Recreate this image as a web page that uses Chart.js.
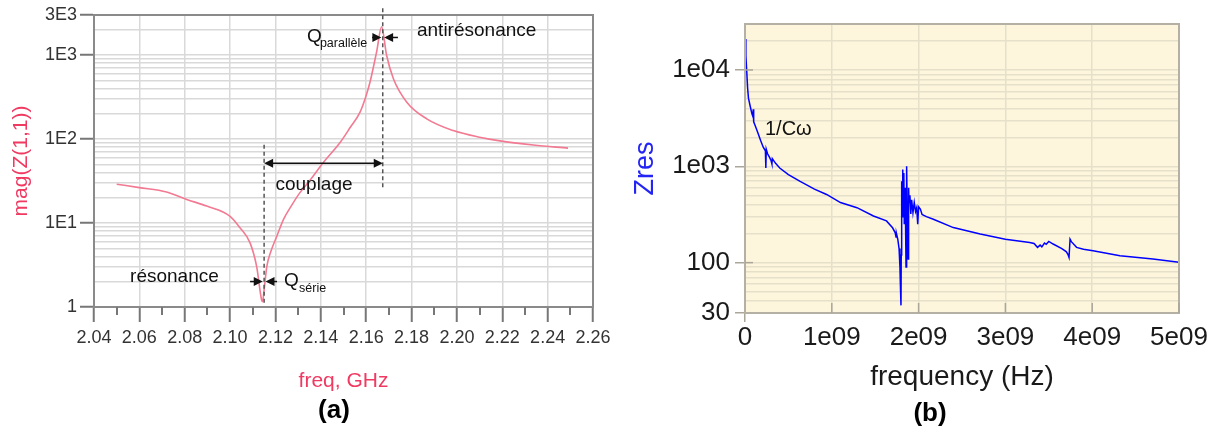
<!DOCTYPE html>
<html><head><meta charset="utf-8">
<script src="https://cdn.jsdelivr.net/npm/chart.js@4"></script>
<style>
html,body{margin:0;padding:0;background:#fff;}
#wrap{position:relative;width:1219px;height:432px;overflow:hidden;}
#cA{position:absolute;left:0;top:0;}
#cB{position:absolute;left:610px;top:0;}
</style></head><body>
<div id="wrap"><canvas id="cA" width="610" height="432"></canvas><canvas id="cB" width="609" height="432"></canvas></div>
<script>
// ---------- (a) data ----------
const freqA = [2.05, 2.06, 2.072, 2.0809, 2.0897, 2.1, 2.1044, 2.1088, 2.1117, 2.1139, 2.1143, 2.115, 2.1162, 2.118, 2.1206, 2.1235, 2.127, 2.1308, 2.1355, 2.1411, 2.1485, 2.153, 2.1573, 2.16, 2.1617, 2.1646, 2.1668, 2.169, 2.172, 2.1779, 2.1867, 2.1984, 2.21, 2.219, 2.2337, 2.249];
const magA  = [29, 26.4, 23.4, 19.1, 15.9, 12, 8.75, 5.8, 3.04, 1.21, 1.16, 1.6, 3.04, 4.6, 6.95, 11, 16, 23, 33, 52.6, 91, 138, 209, 330, 477, 1093, 2177, 995, 523, 275, 174, 126, 105, 95, 85, 78];
const xTicksA = [2.04, 2.06, 2.08, 2.10, 2.12, 2.14, 2.16, 2.18, 2.20, 2.22, 2.24, 2.26];
const xMinorTicksA = [2.05, 2.07, 2.09, 2.11, 2.13, 2.15, 2.17, 2.19, 2.21, 2.23, 2.25];
const yLabelValuesA = [1, 10, 100, 1000, 3000];
const yLabelTextA = ['1', '1E1', '1E2', '1E3', '3E3'];

// ---------- (b) data ----------
const freqB = [0.004e9, 0.01e9, 0.02e9, 0.03e9, 0.04e9, 0.06e9, 0.08e9, 0.09e9, 0.095e9, 0.10e9, 0.12e9, 0.15e9, 0.18e9, 0.21e9, 0.235e9, 0.24e9, 0.245e9, 0.26e9, 0.28e9, 0.30e9, 0.31e9, 0.315e9, 0.35e9, 0.40e9, 0.50e9, 0.63e9, 0.80e9, 0.94e9, 1.10e9, 1.29e9, 1.48e9, 1.63e9, 1.70e9, 1.73e9, 1.74e9, 1.745e9, 1.76e9, 1.775e9, 1.785e9, 1.79e9, 1.797e9, 1.80e9, 1.805e9, 1.81e9, 1.815e9, 1.82e9, 1.83e9, 1.835e9, 1.845e9, 1.855e9, 1.862e9, 1.87e9, 1.88e9, 1.885e9, 1.89e9, 1.90e9, 1.91e9, 1.92e9, 1.935e9, 1.95e9, 1.965e9, 1.978e9, 1.99e9, 2.00e9, 2.02e9, 2.04e9, 2.06e9, 2.09e9, 2.17e9, 2.4e9, 2.71e9, 3.0e9, 3.28e9, 3.33e9, 3.37e9, 3.40e9, 3.42e9, 3.45e9, 3.47e9, 3.50e9, 3.55e9, 3.65e9, 3.70e9, 3.72e9, 3.733e9, 3.745e9, 3.76e9, 3.82e9, 3.9e9, 4.01e9, 4.32e9, 4.7e9, 5.0e9];
const zresB = [21000, 14000, 9700, 6500, 5100, 4200, 3500, 3300, 3900, 2900, 2600, 2200, 1850, 1580, 1450, 960, 1500, 1350, 1250, 1150, 1060, 1200, 1080, 960, 820, 700, 580, 510, 420, 372, 305, 271, 230, 205, 185, 200, 175, 140, 90, 60, 36, 120, 700, 300, 925, 400, 850, 250, 600, 90, 1000, 300, 109, 600, 420, 500, 320, 450, 330, 420, 340, 372, 251, 380, 360, 317, 310, 300, 282, 231, 198, 175, 162, 158, 144, 152, 146, 160, 155, 166, 156, 140, 130, 122, 113, 175, 165, 144, 138, 133, 118, 109, 101];
const xTicksB = [0, 1e9, 2e9, 3e9, 4e9, 5e9];
const xTickTextB = ['0', '1e09', '2e09', '3e09', '4e09', '5e09'];
const yLabelValuesB = [30, 100, 1000, 10000];
const yLabelTextB = ['30', '100', '1e03', '1e04'];

// ---------- helpers ----------
const FONT = "'Liberation Sans', Arial, Helvetica, sans-serif";
function logGrid(lo, hi) {
  const out = [];
  for (let e = 0; e <= 5; e++) for (let m = 1; m <= 9; m++) {
    const v = m * Math.pow(10, e);
    if (v >= lo && v <= hi) out.push(v);
  }
  return out;
}
const yGridA = logGrid(1, 3000);
const yGridB = logGrid(30, 30000);
const CLEAR = 'rgba(0,0,0,0)';
function noPad(s) { s.paddingLeft = 0; s.paddingRight = 0; s.paddingTop = 0; s.paddingBottom = 0; }

function arrowHead(ctx, tipX, y, dir) {
  const len = 9, half = 4.5;
  ctx.beginPath();
  ctx.moveTo(tipX, y);
  ctx.lineTo(tipX - dir * len, y - half);
  ctx.lineTo(tipX - dir * len, y + half);
  ctx.closePath();
  ctx.fill();
}

// annotation config for (a), in data coordinates
const dashedA = [{x: 2.115, y1: 1.12, y2: 87}, {x: 2.1673, y1: 26.6, y2: 3600}];
const doubleArrowA = {x1: 2.115, x2: 2.1673, y: 51.6};
const pointArrowsA = [
  {from: 2.1626, to: 2.1667, y: 1620}, {from: 2.174, to: 2.1679, y: 1620},
  {from: 2.1088, to: 2.1144, y: 2.01}, {from: 2.1207, to: 2.1156, y: 2.01}
];
const notesA = [
  {text: 'couplage', x: 2.137, y: 28.9, align: 'center', size: 19},
  {text: 'antirésonance', x: 2.1824, y: 1965, align: 'left', size: 19},
  {text: 'résonance', x: 2.0559, y: 2.29, align: 'left', size: 19},
  {text: 'Q', x: 2.1339, y: 1666, align: 'left', size: 19},
  {text: 'parallèle', x: 2.1396, y: 1373, align: 'left', size: 12.5},
  {text: 'Q', x: 2.1238, y: 2.05, align: 'left', size: 19},
  {text: 'série', x: 2.1304, y: 1.64, align: 'left', size: 12.5}
];

const pluginA = {
  id: 'decorA',
  afterDraw(chart) {
    const {ctx, chartArea: a, scales: {x, y}} = chart;
    ctx.save();
    ctx.strokeStyle = '#8a8a8a'; ctx.lineWidth = 2;
    ctx.strokeRect(a.left, a.top, a.right - a.left, a.bottom - a.top);
    ctx.strokeStyle = '#777'; ctx.lineWidth = 2;
    xMinorTicksA.forEach(v => {
      const px = Math.round(x.getPixelForValue(v));
      ctx.beginPath(); ctx.moveTo(px, a.bottom); ctx.lineTo(px, a.bottom + 8); ctx.stroke();
    });
    ctx.strokeStyle = '#555'; ctx.lineWidth = 1.5; ctx.setLineDash([4, 3]);
    dashedA.forEach(d => {
      const px = x.getPixelForValue(d.x);
      ctx.beginPath(); ctx.moveTo(px, y.getPixelForValue(d.y1)); ctx.lineTo(px, y.getPixelForValue(d.y2)); ctx.stroke();
    });
    ctx.setLineDash([]);
    ctx.strokeStyle = '#111'; ctx.fillStyle = '#111'; ctx.lineWidth = 1.5;
    const ax1 = x.getPixelForValue(doubleArrowA.x1), ax2 = x.getPixelForValue(doubleArrowA.x2), ay = y.getPixelForValue(doubleArrowA.y);
    ctx.beginPath(); ctx.moveTo(ax1 + 4, ay); ctx.lineTo(ax2 - 4, ay); ctx.stroke();
    arrowHead(ctx, ax1, ay, -1); arrowHead(ctx, ax2, ay, 1);
    pointArrowsA.forEach(p => {
      const f = x.getPixelForValue(p.from), t = x.getPixelForValue(p.to), py = y.getPixelForValue(p.y);
      const dir = t > f ? 1 : -1;
      ctx.beginPath(); ctx.moveTo(f, py); ctx.lineTo(t - dir * 4, py); ctx.stroke();
      arrowHead(ctx, t, py, dir);
    });
    ctx.textBaseline = 'middle';
    notesA.forEach(n => {
      ctx.font = n.size + 'px ' + FONT; ctx.textAlign = n.align; ctx.fillStyle = '#111';
      ctx.fillText(n.text, x.getPixelForValue(n.x), y.getPixelForValue(n.y));
    });
    ctx.font = 'bold 26px ' + FONT; ctx.textAlign = 'center'; ctx.fillStyle = '#000';
    ctx.fillText('(a)', 334, 411);
    ctx.restore();
  }
};

new Chart(document.getElementById('cA'), {
  type: 'line',
  data: {datasets: [{data: freqA.map((f, i) => ({x: f, y: magA[i]})), borderColor: '#f27a92', borderWidth: 1.6, pointRadius: 0, cubicInterpolationMode: 'monotone'}]},
  options: {
    responsive: false, animation: false, devicePixelRatio: 1,
    layout: {padding: {left: 0, top: 15, right: 17, bottom: 0}},
    plugins: {legend: {display: false}, tooltip: {enabled: false}},
    scales: {
      x: {
        type: 'linear', min: 2.04, max: 2.26,
        afterBuildTicks: s => { s.ticks = xTicksA.map(v => ({value: v})); },
        afterFit: s => { s.height = 125; noPad(s); },
        ticks: {autoSkip: false, maxRotation: 0, padding: 5, color: '#333', font: {family: FONT, size: 18}, callback: v => Number(v).toFixed(2)},
        grid: {color: '#d9d9d9', lineWidth: 1.5, tickLength: 15, tickColor: '#777', tickWidth: 2},
        border: {color: '#777', width: 2},
        title: {display: true, text: 'freq, GHz', color: '#f03a62', font: {family: FONT, size: 21}, padding: {top: 0, bottom: 38}}
      },
      y: {
        type: 'logarithmic', min: 1, max: 3000,
        afterBuildTicks: s => { s.ticks = yGridA.map(v => ({value: v})); },
        afterFit: s => { s.width = 94; noPad(s); },
        ticks: {autoSkip: false, padding: 3, color: '#333', font: {family: FONT, size: 18},
          callback: v => { const i = yLabelValuesA.indexOf(v); return i >= 0 ? yLabelTextA[i] : ''; }},
        grid: {color: '#d9d9d9', lineWidth: 1.5, tickLength: 14, tickWidth: 2,
          tickColor: c => (c.tick && yLabelValuesA.includes(c.tick.value)) ? '#777' : CLEAR},
        border: {color: '#777', width: 2},
        title: {display: true, text: 'mag(Z(1,1))', color: '#f03a62', font: {family: FONT, size: 21}, padding: {top: 9, bottom: 0}}
      }
    }
  },
  plugins: [pluginA]
});

// ---------- (b) ----------
const noteB = {text: '1/Cω', x: 0.23e9, y: 2405};
const pluginB = {
  id: 'decorB',
  beforeDraw(chart) {
    const {ctx, chartArea: a} = chart;
    ctx.save(); ctx.fillStyle = '#fdf6dc';
    ctx.fillRect(a.left, a.top, a.right - a.left, a.bottom - a.top); ctx.restore();
  },
  afterDraw(chart) {
    const {ctx, chartArea: a, scales: {x, y}} = chart;
    ctx.save();
    ctx.strokeStyle = '#b4b0a4'; ctx.lineWidth = 2;
    ctx.strokeRect(a.left, a.top, a.right - a.left, a.bottom - a.top);
    ctx.strokeStyle = '#aaa69a'; ctx.lineWidth = 1.5;
    xTicksB.slice(1).forEach(v => {
      const px = x.getPixelForValue(v);
      ctx.beginPath(); ctx.moveTo(px, a.bottom); ctx.lineTo(px, a.bottom - 10); ctx.stroke();
    });
    [10000, 100].forEach(v => {
      const py = y.getPixelForValue(v);
      ctx.beginPath(); ctx.moveTo(a.left, py); ctx.lineTo(a.left + 8, py); ctx.stroke();
    });
    ctx.fillStyle = '#111'; ctx.textBaseline = 'middle'; ctx.textAlign = 'left';
    ctx.font = '20px ' + FONT;
    ctx.fillText(noteB.text, x.getPixelForValue(noteB.x), y.getPixelForValue(noteB.y));
    ctx.font = 'bold 26px ' + FONT; ctx.textAlign = 'center'; ctx.fillStyle = '#000';
    ctx.fillText('(b)', 320, 414);
    ctx.restore();
  }
};

new Chart(document.getElementById('cB'), {
  type: 'line',
  data: {datasets: [{data: freqB.map((f, i) => ({x: f, y: zresB[i]})), borderColor: '#0000ff', borderWidth: 1.5, pointRadius: 0, tension: 0}]},
  options: {
    responsive: false, animation: false, devicePixelRatio: 1,
    layout: {padding: {left: 0, top: 24, right: 40, bottom: 0}},
    plugins: {legend: {display: false}, tooltip: {enabled: false}},
    scales: {
      x: {
        type: 'linear', min: 0, max: 5e9,
        afterBuildTicks: s => { s.ticks = xTicksB.map(v => ({value: v})); },
        afterFit: s => { s.height = 119; noPad(s); },
        ticks: {autoSkip: false, maxRotation: 0, padding: 0, color: '#1a1a1a', font: {family: FONT, size: 26},
          callback: (v, i) => xTickTextB[i]},
        grid: {color: '#e6dfc9', lineWidth: 1.5, tickLength: 9, tickWidth: 1.5,
          tickColor: c => (c.tick && c.tick.value === 0) ? '#aaa69a' : CLEAR},
        border: {color: '#b4b0a4', width: 2},
        title: {display: true, text: 'frequency (Hz)', color: '#1a1a1a', font: {family: FONT, size: 28}, padding: {top: 0, bottom: 38}}
      },
      y: {
        type: 'logarithmic', min: 30, max: 30000,
        afterBuildTicks: s => { s.ticks = yGridB.map(v => ({value: v})); },
        afterFit: s => { s.width = 135; noPad(s); },
        ticks: {autoSkip: false, padding: 5, color: '#1a1a1a', font: {family: FONT, size: 26},
          callback: v => { const i = yLabelValuesB.indexOf(v); return i >= 0 ? yLabelTextB[i] : ''; }},
        grid: {color: '#e6dfc9', lineWidth: 1.5, tickLength: 10, tickWidth: 1.5,
          tickColor: c => (c.tick && yLabelValuesB.includes(c.tick.value)) ? '#aaa69a' : CLEAR},
        border: {color: '#b4b0a4', width: 2},
        title: {display: true, text: 'Zres', color: '#2424f5', font: {family: FONT, size: 27}, padding: {top: 19, bottom: 0}}
      }
    }
  },
  plugins: [pluginB]
});
</script>
</body></html>
